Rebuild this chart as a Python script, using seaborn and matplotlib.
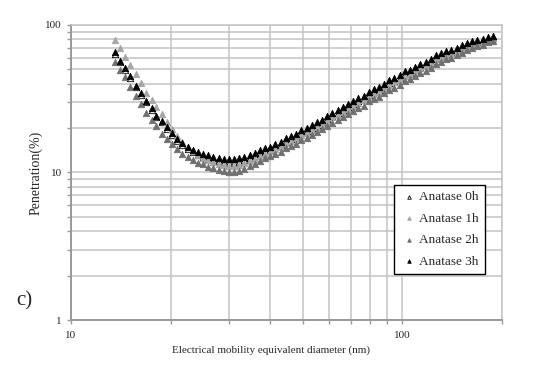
import matplotlib
matplotlib.use("Agg")
import matplotlib.pyplot as plt
import matplotlib.ticker as mticker
import seaborn as sns
import pandas as pd

sns.set_style("white")
plt.rcParams["font.family"] = "Liberation Serif"

# electrical mobility diameter channels (nm)
diam = [13.6, 14.1, 14.6, 15.1, 15.7, 16.3, 16.8, 17.5, 18.1, 18.8, 19.5, 20.2,
        20.9, 21.7, 22.5, 23.3, 24.1, 25.0, 25.9, 26.9, 27.9, 28.9, 30.0,
        31.1, 32.2, 33.4, 34.6, 35.9, 37.2, 38.5, 40.0,
        41.4, 42.9, 44.5, 46.1, 47.8, 49.6,
        51.4, 53.3, 55.2, 57.3, 59.4,
        61.5, 63.8, 66.1, 68.5, 71.0, 73.7, 76.4, 79.1, 82.0, 85.1, 88.2, 91.4, 94.7, 98.2,
        101.8, 105.5, 109.4, 113.4, 117.6, 121.9, 126.3, 131.0, 135.8, 140.7, 145.9,
        151.2, 156.8, 162.5, 168.5, 174.7, 181.1, 187.7]

# penetration (%)
pen_0h = [64.0, 56.0, 49.5, 43.5, 37.8, 33.5, 30.0, 26.6, 23.8, 22.0, 19.8, 18.0,
          16.4, 15.4, 14.5, 13.7, 13.2, 12.7, 12.4, 12.1, 11.9, 11.7, 11.6,
          11.6, 11.8, 12.1, 12.5, 12.9, 13.4, 13.9, 14.3,
          14.8, 15.4, 16.2, 16.8, 17.4, 18.4,
          19.0, 19.9, 21.0, 21.8, 22.9,
          24.2, 25.2, 26.4, 27.8, 29.0, 30.5, 31.5, 33.6, 34.9, 36.3, 38.2, 40.3, 41.7, 43.5,
          46.3, 47.6, 49.6, 51.8, 53.6, 56.0, 59.5, 62.0, 64.0, 65.3, 67.4,
          70.0, 72.9, 74.6, 76.6, 77.9, 80.2, 81.5]
pen_1h = [79.1, 69.5, 61.0, 53.3, 46.5, 40.6, 34.8, 31.0, 27.7, 24.8, 22.0, 19.6,
          17.6, 16.2, 15.0, 14.0, 13.2, 12.6, 12.1, 11.7, 11.4, 11.2, 11.1,
          11.1, 11.3, 11.6, 12.0, 12.4, 12.9, 13.4, 13.9,
          14.4, 15.0, 15.8, 16.4, 17.0, 17.9,
          18.5, 19.4, 20.4, 21.2, 22.3,
          23.6, 24.6, 25.8, 27.1, 28.3, 29.8, 30.8, 32.7, 34.1, 35.4, 37.3, 39.3, 40.8, 42.5,
          45.2, 46.5, 48.5, 50.7, 52.6, 55.0, 58.5, 60.6, 62.8, 64.2, 66.4,
          69.0, 71.5, 73.6, 75.8, 77.6, 80.0, 81.5]
pen_2h = [56.4, 49.5, 44.2, 37.8, 33.0, 29.1, 25.4, 22.7, 20.7, 18.2, 16.8, 15.6,
          14.5, 13.3, 12.8, 12.2, 11.65, 11.4, 10.95, 10.7, 10.4, 10.2, 10.1,
          10.1, 10.3, 10.6, 11.0, 11.5, 12.0, 12.5, 12.9,
          13.3, 13.8, 14.6, 15.1, 15.6, 16.6,
          17.1, 18.0, 18.9, 19.6, 20.6,
          21.8, 22.7, 23.8, 25.0, 26.1, 27.5, 28.4, 30.3, 31.5, 32.7, 34.4, 36.3, 37.6, 39.2,
          41.8, 43.0, 45.0, 47.0, 48.8, 51.0, 54.0, 56.5, 58.6, 60.0, 62.3,
          65.0, 67.8, 69.8, 72.0, 73.6, 76.2, 77.5]
pen_3h = [65.9, 57.3, 50.9, 44.9, 38.8, 34.4, 30.7, 27.2, 24.3, 22.5, 20.3, 18.4,
          16.8, 15.9, 15.0, 14.2, 13.8, 13.3, 13.1, 12.8, 12.5, 12.4, 12.3,
          12.3, 12.5, 12.8, 13.2, 13.6, 14.1, 14.6, 15.0,
          15.5, 16.1, 17.0, 17.6, 18.2, 19.3,
          19.9, 20.9, 22.0, 22.8, 24.0,
          25.4, 26.4, 27.7, 29.1, 30.4, 32.0, 33.0, 35.2, 36.6, 38.0, 40.0, 42.2, 43.7, 45.6,
          48.5, 49.8, 51.9, 54.2, 56.1, 58.5, 63.0, 64.9, 67.0, 68.0, 70.2,
          72.8, 75.9, 77.5, 79.5, 80.7, 83.0, 84.0]

labels = ["Anatase 0h", "Anatase 1h", "Anatase 2h", "Anatase 3h"]
series = [pen_0h, pen_1h, pen_2h, pen_3h]
faces = ["white", "#a6a6a6", "#6f6f6f", "black"]
edges = ["black", "#a6a6a6", "#6f6f6f", "black"]

data = pd.concat([pd.DataFrame({"d": diam, "p": s, "run": lab})
                  for s, lab in zip(series, labels)])

fig = plt.figure(figsize=(5.35, 3.82), dpi=100)
ax = fig.add_axes([0.1327, 0.1623, 0.8056, 0.7723])

for lab, fc, ec in zip(labels, faces, edges):
    sns.scatterplot(data=data[data["run"] == lab], x="d", y="p", ax=ax,
                    marker="^", s=21, color=fc, edgecolor=ec, linewidth=0.6,
                    label=lab, zorder=3)

ax.set_xscale("log")
ax.set_yscale("log")
ax.set_xlim(10, 200)
ax.set_ylim(1, 100)

ax.xaxis.set_major_locator(mticker.FixedLocator([10, 100]))
ax.xaxis.set_major_formatter(mticker.FixedFormatter(["10", "100"]))
ax.xaxis.set_minor_locator(mticker.LogLocator(base=10, subs=range(2, 10)))
ax.xaxis.set_minor_formatter(mticker.NullFormatter())
ax.yaxis.set_major_locator(mticker.FixedLocator([1, 10, 100]))
ax.yaxis.set_major_formatter(mticker.FixedFormatter(["1", "10", "100"]))
ax.yaxis.set_minor_locator(mticker.LogLocator(base=10, subs=range(2, 10)))
ax.yaxis.set_minor_formatter(mticker.NullFormatter())

ax.grid(True, which="both", color="#c4c4c4", linewidth=1.1, zorder=0)
ax.set_axisbelow(True)
ax.tick_params(which="both", direction="out", length=3, width=1, color="#999999",
               labelsize=8, bottom=True, left=True)
ax.tick_params(axis="x", pad=5)
for side in ["left", "bottom"]:
    ax.spines[side].set_color("#999999")
    ax.spines[side].set_linewidth(1.4)
for side in ["top", "right"]:
    ax.spines[side].set_color("#c4c4c4")
    ax.spines[side].set_linewidth(1.1)

ax.set_xlabel("Electrical mobility equivalent diameter (nm)", fontsize=8, labelpad=5)
ax.xaxis.set_label_coords(0.465, -0.085)
ax.set_ylabel("Penetration(%)", fontsize=10, labelpad=2)

leg = ax.legend(loc="lower right", bbox_to_anchor=(0.977, 0.132), fontsize=9.5,
                frameon=True, fancybox=False, edgecolor="black", framealpha=1,
                markerscale=0.55, handletextpad=0.1, labelspacing=0.7,
                borderpad=0.5, handlelength=1.3)
leg.get_frame().set_linewidth(1.0)

fig.text(0.03, 0.2, "c)", fontsize=15)

fig.savefig("out.png", dpi=100)
